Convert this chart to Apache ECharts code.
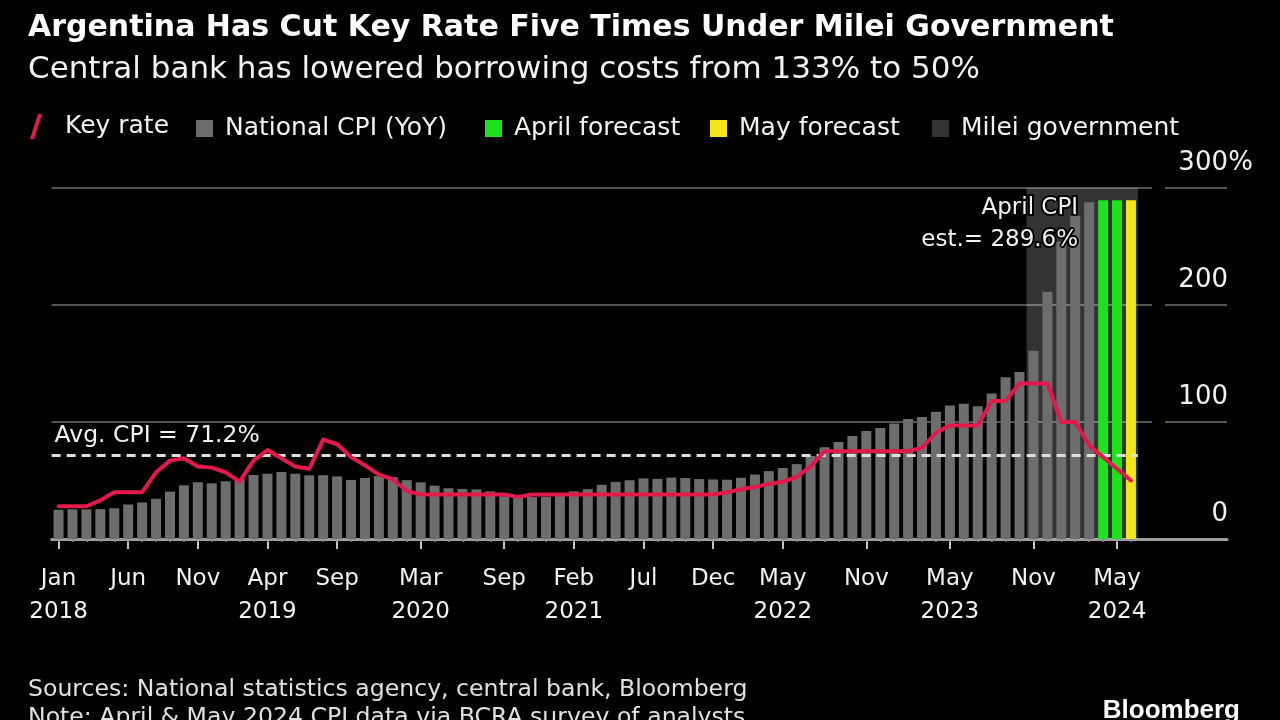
<!DOCTYPE html>
<html>
<head>
<meta charset="utf-8">
<script src="https://cdn.jsdelivr.net/npm/echarts@6/dist/echarts.min.js"></script>
<style>
html,body{margin:0;padding:0;background:#000;}
#chart{width:1280px;height:720px;}
</style>
</head>
<body>
<div id="chart"></div>
<script>
// ---------- data ----------
const categories = [
  'Jan 2018','Feb 2018','Mar 2018','Apr 2018','May 2018','Jun 2018','Jul 2018','Aug 2018','Sep 2018','Oct 2018','Nov 2018','Dec 2018',
  'Jan 2019','Feb 2019','Mar 2019','Apr 2019','May 2019','Jun 2019','Jul 2019','Aug 2019','Sep 2019','Oct 2019','Nov 2019','Dec 2019',
  'Jan 2020','Feb 2020','Mar 2020','Apr 2020','May 2020','Jun 2020','Jul 2020','Aug 2020','Sep 2020','Oct 2020','Nov 2020','Dec 2020',
  'Jan 2021','Feb 2021','Mar 2021','Apr 2021','May 2021','Jun 2021','Jul 2021','Aug 2021','Sep 2021','Oct 2021','Nov 2021','Dec 2021',
  'Jan 2022','Feb 2022','Mar 2022','Apr 2022','May 2022','Jun 2022','Jul 2022','Aug 2022','Sep 2022','Oct 2022','Nov 2022','Dec 2022',
  'Jan 2023','Feb 2023','Mar 2023','Apr 2023','May 2023','Jun 2023','Jul 2023','Aug 2023','Sep 2023','Oct 2023','Nov 2023','Dec 2023',
  'Jan 2024','Feb 2024','Mar 2024','Apr 2024','May 2024','Jun 2024'
];

// National CPI (YoY, %) – Jan 2018 .. Mar 2024
const cpiValues = [
  25.0, 25.4, 25.4, 25.5, 26.3, 29.5, 31.2, 34.4, 40.5, 45.9, 48.5, 47.6,
  49.3, 51.3, 54.7, 55.8, 57.3, 55.8, 54.4, 54.5, 53.5, 50.5, 52.1, 53.8,
  52.9, 50.3, 48.4, 45.6, 43.4, 42.8, 42.4, 40.7, 36.6, 37.2, 35.8, 36.1,
  38.5, 40.7, 42.6, 46.3, 48.8, 50.2, 51.8, 51.4, 52.5, 52.1, 51.2, 50.9,
  50.7, 52.3, 55.1, 58.0, 60.7, 64.0, 71.0, 78.5, 83.0, 88.0, 92.4, 94.8,
  98.8, 102.5, 104.3, 108.8, 114.2, 115.6, 113.4, 124.4, 138.3, 142.7, 160.9, 211.4,
  254.2, 276.2, 287.9
];

// Key rate (%) – one value per category
const keyRateValues = [
  28, 28, 28, 33, 40, 40, 40, 57, 67, 69, 62, 61,
  57, 49, 67, 76, 69, 62, 60, 85, 81, 70, 63, 55,
  51, 41, 38, 38, 38, 38, 38, 38, 38, 36, 38, 38,
  38, 38, 38, 38, 38, 38, 38, 38, 38, 38, 38, 38,
  40, 42.5, 44.5, 47, 49, 53, 62, 75, 75, 75, 75, 75,
  75, 75, 78, 91, 97, 97, 97, 118, 118, 133, 133, 133,
  100, 100, 80, 70, 60, 50
];

const aprilForecastMonths = ['Apr 2024', 'May 2024'];
const aprilForecastValues = [289.6, 289.6];
const mayForecastMonths = ['Jun 2024'];
const mayForecastValues = [289.6];

const mileiStartMonth = 'Nov 2023';
const avgCpi = 71.2;
const yTicks = [0, 100, 200, 300];
const tickMonths = ['Jan 2018','Jun 2018','Nov 2018','Apr 2019','Sep 2019','Mar 2020','Sep 2020',
  'Feb 2021','Jul 2021','Dec 2021','May 2022','Nov 2022','May 2023','Nov 2023','May 2024'];

// ---------- helpers ----------
const N = categories.length;
const cpiData = categories.map((c, i) => i < cpiValues.length ? cpiValues[i] : null);
const aprData = categories.map(c => { const k = aprilForecastMonths.indexOf(c); return k >= 0 ? aprilForecastValues[k] : null; });
const mayData = categories.map(c => { const k = mayForecastMonths.indexOf(c); return k >= 0 ? mayForecastValues[k] : null; });
const tickSet = new Set(tickMonths);
const firstOfYear = new Set();
{
  const seen = new Set();
  tickMonths.forEach(t => { const y = t.split(' ')[1]; if (!seen.has(y)) { seen.add(y); firstOfYear.add(t); } });
}
const isTick = (idx, val) => tickSet.has(val);
const mileiIdx = categories.indexOf(mileiStartMonth);
const yMax = yTicks[yTicks.length - 1];

const FONT = '"DejaVu Sans", "Liberation Sans", sans-serif';
const TXT = '#f2f2f2';
const GRIDC = '#535353';
const RED = '#e3184b';
const GRAY = '#6d6d6d';
const GREEN = '#1de21d';
const YELLOW = '#f4e616';
const SHADE = 'rgba(255,255,255,0.2)';

const gTop = 188, gBottom = 181;

const chart = echarts.init(document.getElementById('chart'), null, {renderer: 'canvas'});

const legendBase = {
  top: 116, padding: 0, selectedMode: false, itemGap: 0,
  textStyle: {color: TXT, fontSize: 25, fontFamily: FONT, padding: [0, 0, 0, 7]},
  itemWidth: 17, itemHeight: 17
};

chart.setOption({
  backgroundColor: '#000',
  animation: false,
  textStyle: {fontFamily: FONT},
  title: [
    {text: 'Argentina Has Cut Key Rate Five Times Under Milei Government', left: 28, top: 13, padding: 0,
     textStyle: {color: '#fff', fontSize: 30, fontWeight: 'bold', fontFamily: FONT}},
    {text: 'Central bank has lowered borrowing costs from 133% to 50%', left: 28, top: 54, padding: 0,
     textStyle: {color: TXT, fontSize: 31, fontWeight: 'normal', fontFamily: FONT}},
    {text: 'Sources: National statistics agency, central bank, Bloomberg', left: 28, top: 678, padding: 0,
     textStyle: {color: '#e0e0e0', fontSize: 23.6, fontWeight: 'normal', fontFamily: FONT}},
    {text: 'Note: April & May 2024 CPI data via BCRA survey of analysts', left: 28, top: 706, padding: 0,
     textStyle: {color: '#e0e0e0', fontSize: 23.6, fontWeight: 'normal', fontFamily: FONT}},
    {text: 'Bloomberg', right: 40, top: 698, padding: 0,
     textStyle: {color: '#fff', fontSize: 26, fontWeight: 'bold', fontFamily: '"Liberation Sans", Arial, sans-serif'}}
  ],
  legend: [
    Object.assign({}, legendBase, {left: 30, top: 114, itemWidth: 12, itemHeight: 25,
      data: [{name: 'Key rate', icon: 'path://M8,0 L12,0 L4,25 L0,25 Z'}],
      textStyle: {color: TXT, fontSize: 25, fontFamily: FONT, padding: [0, 0, 0, 18]}}),
    Object.assign({}, legendBase, {left: 196, data: [{name: 'National CPI (YoY)', icon: 'rect'}]}),
    Object.assign({}, legendBase, {left: 485, data: [{name: 'April forecast', icon: 'rect'}]}),
    Object.assign({}, legendBase, {left: 710, data: [{name: 'May forecast', icon: 'rect'}]}),
    Object.assign({}, legendBase, {left: 932, data: [{name: 'Milei government', icon: 'rect'}]})
  ],
  grid: [
    {left: 51.6, right: 142.1, top: gTop, bottom: gBottom},   // data
    {left: 51.6, right: 128, top: gTop, bottom: gBottom},     // gridlines
    {left: 1165, right: 53, top: gTop, bottom: gBottom},      // right labels
    {left: 51.6, right: 53, top: gTop, bottom: gBottom}       // baseline
  ],
  xAxis: [
    {type: 'category', gridIndex: 0, data: categories, position: 'bottom',
     axisLine: {show: false},
     axisTick: {show: true, interval: isTick, alignWithLabel: true, length: 10,
                lineStyle: {color: '#c4c4c4', width: 2}},
     axisLabel: {interval: isTick, color: TXT, fontSize: 23, lineHeight: 33, margin: 24, fontFamily: FONT,
                 formatter: v => { const p = v.split(' '); return p[0] + '\n' + (firstOfYear.has(v) ? p[1] : ''); }},
     splitLine: {show: false}},
    {type: 'category', gridIndex: 0, data: categories, position: 'bottom',
     axisLine: {show: false}, axisLabel: {show: false},
     axisTick: {show: true, interval: 0, alignWithLabel: true, length: 3, lineStyle: {color: '#8a8a8a', width: 1.5}},
     splitLine: {show: false}},
    {type: 'value', gridIndex: 0, min: -0.5, max: N - 0.5, show: false},
    {type: 'value', gridIndex: 1, show: false},
    {type: 'value', gridIndex: 2, show: false},
    {type: 'value', gridIndex: 3, min: 0, max: 1, axisLine: {show: true, lineStyle: {color: '#9d9d9d', width: 3}},
     axisTick: {show: false}, axisLabel: {show: false}, splitLine: {show: false}}
  ],
  yAxis: [
    {type: 'value', gridIndex: 0, min: yTicks[0], max: yMax, interval: 100, show: false},
    {type: 'value', gridIndex: 1, min: yTicks[0], max: yMax, interval: 100,
     axisLine: {show: false}, axisTick: {show: false}, axisLabel: {show: false},
     splitLine: {show: true, showMinLine: false, lineStyle: {color: GRIDC, width: 2}}},
    {type: 'value', gridIndex: 2, min: yTicks[0], max: yMax, interval: 100, position: 'left',
     axisLine: {show: false}, axisTick: {show: false},
     axisLabel: {inside: true, align: 'right', margin: 88, color: TXT, fontSize: 26, fontFamily: FONT,
                 verticalAlign: 'bottom', padding: [0, 0, 12, 0],
                 formatter: v => '{n|' + v + '}{p|' + (v === yMax ? '%' : '') + '}',
                 rich: {n: {color: TXT, fontSize: 26, fontFamily: FONT},
                        p: {color: TXT, fontSize: 26, fontFamily: FONT, width: 25, align: 'left'}}},
     splitLine: {show: true, showMinLine: false, lineStyle: {color: GRIDC, width: 2}}},
    {type: 'value', gridIndex: 3, min: 0, max: 1, show: false}
  ],
  series: [
    {name: 'Milei government', type: 'line', xAxisIndex: 2, yAxisIndex: 0, data: [], z: 1,
     itemStyle: {color: SHADE}, lineStyle: {color: SHADE},
     markArea: {silent: true, itemStyle: {color: SHADE},
       data: [[{xAxis: mileiIdx - 0.5, yAxis: yTicks[0]}, {xAxis: N - 0.5, yAxis: yMax}]]}},
    {name: 'National CPI (YoY)', type: 'bar', xAxisIndex: 0, yAxisIndex: 0, data: cpiData, z: 2,
     barWidth: 10, barGap: '-100%', itemStyle: {color: GRAY},
     markLine: {silent: true, symbol: 'none',
       lineStyle: {color: '#dedede', type: [9, 6], width: 3},
       label: {show: true, position: 'insideStartTop', formatter: 'Avg. CPI = ' + avgCpi + '%',
               color: TXT, fontSize: 23.5, fontFamily: FONT, distance: [3, 8]},
       data: [{yAxis: avgCpi}]}},
    {name: 'April forecast', type: 'bar', xAxisIndex: 0, yAxisIndex: 0, data: aprData, z: 2,
     barWidth: 10, barGap: '-100%', itemStyle: {color: GREEN},
     markPoint: {silent: true, symbol: 'rect', symbolSize: 0,
       data: [{coord: [aprilForecastMonths[0], aprilForecastValues[0]]}],
       label: {show: true, position: 'left', distance: 25, offset: [0, 24], align: 'right',
               formatter: 'April CPI\nest.= ' + aprilForecastValues[0] + '%',
               color: TXT, fontSize: 23, lineHeight: 32, fontFamily: FONT,
               textBorderColor: '#000', textBorderWidth: 4}}},
    {name: 'May forecast', type: 'bar', xAxisIndex: 0, yAxisIndex: 0, data: mayData, z: 2,
     barWidth: 10, barGap: '-100%', itemStyle: {color: YELLOW}},
    {name: 'Key rate', type: 'line', xAxisIndex: 0, yAxisIndex: 0, data: keyRateValues, z: 5,
     symbol: 'none', itemStyle: {color: RED},
     lineStyle: {color: RED, width: 4, join: 'round', cap: 'round'}}
  ]
});
</script>
</body>
</html>
